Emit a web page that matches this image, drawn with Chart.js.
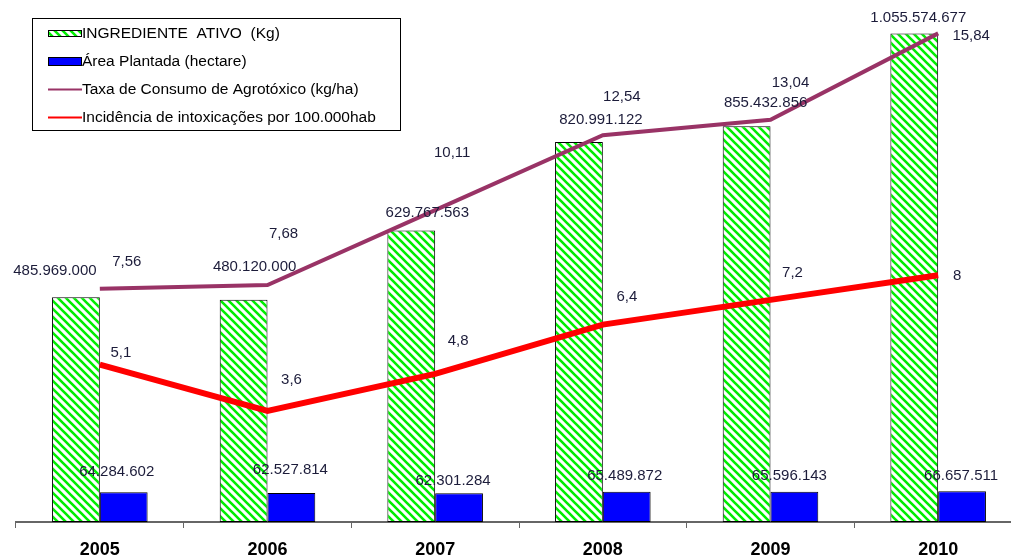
<!DOCTYPE html>
<html>
<head>
<meta charset="utf-8">
<script src="https://cdn.jsdelivr.net/npm/chart.js@4/dist/chart.umd.min.js"></script>
<style>
  html, body { margin: 0; padding: 0; background: #fff; overflow: hidden; }
  #wrap { width: 1011px; height: 559px; overflow: hidden; }
</style>
</head>
<body>
<div id="wrap"><canvas id="chart" width="1022" height="559"></canvas></div>
<script>
const years = ['2005', '2006', '2007', '2008', '2009', '2010'];
const ingredienteAtivo = [485969000, 480120000, 629767563, 820991122, 855432856, 1055574677];
const areaPlantada = [64284602, 62527814, 62301284, 65489872, 65596143, 66657511];
const taxaConsumo = [7.56, 7.68, 10.11, 12.54, 13.04, 15.84];
const incidencia = [5.1, 3.6, 4.8, 6.4, 7.2, 8];

// label nudges (dx, dy) from each mark, like the hand-moved labels of the original
const nudgeIngrediente = [[-21, -26], [11, -33], [16, -18], [22, -22], [19, -23], [4, -16]];
const nudgeArea = [[-7, -20], [-1, -23], [-6, -12], [-2, -16], [-5, -16], [-1, -15]];
const nudgeTaxa = [[27, -27], [16, -51], [17, -57], [19, -38], [20, -37], [33, 2]];
const nudgeIncid = [[21, -12], [24, -31], [23, -33], [24, -28], [22, -27], [19, 1]];

const FONT = "'Liberation Sans', Arial, sans-serif";

function fmt(v) {
    let parts = String(v).split('.');
    let int = parts[0].replace(/\B(?=(\d{3})+(?!\d))/g, '.');
    return parts.length > 1 ? int + ',' + parts[1] : int;
}

function hatch() {
    const c = document.createElement('canvas');
    c.width = 8; c.height = 8;
    const g = c.getContext('2d');
    g.fillStyle = '#fff';
    g.fillRect(0, 0, 8, 8);
    g.strokeStyle = '#00ee00';
    g.lineWidth = 2.6;
    g.beginPath();
    g.moveTo(-1, -1); g.lineTo(9, 9);
    g.moveTo(-9, -1); g.lineTo(1, 9);
    g.moveTo(7, -1); g.lineTo(17, 9);
    g.stroke();
    return c;
}

const ctx = document.getElementById('chart').getContext('2d');
const greenPattern = ctx.createPattern(hatch(), 'repeat');

const nudges = [nudgeIngrediente, nudgeArea, nudgeTaxa, nudgeIncid];

const labelPlugin = {
    id: 'valueLabels',
    afterDatasetsDraw(chart) {
        const c = chart.ctx;
        c.save();
        c.font = '15px ' + FONT;
        c.fillStyle = '#1c1c3a';
        c.textAlign = 'center';
        c.textBaseline = 'middle';
        chart.data.datasets.forEach((ds, i) => {
            const meta = chart.getDatasetMeta(i);
            meta.data.forEach((el, j) => {
                const n = nudges[i][j];
                c.fillText(fmt(ds.data[j]), el.x + n[0], el.y + n[1]);
            });
        });
        c.restore();
    }
};

const legendPlugin = {
    id: 'boxLegend',
    afterDraw(chart) {
        const c = chart.ctx;
        const ds = chart.data.datasets;
        c.save();
        c.fillStyle = '#fff';
        c.fillRect(32, 18, 368, 112);
        c.strokeStyle = '#000';
        c.lineWidth = 1;
        c.strokeRect(32.5, 18.5, 368, 112);
        const rows = [33, 61, 89, 117];
        c.font = '15.5px ' + FONT;
        c.textBaseline = 'middle';
        c.textAlign = 'left';
        ds.forEach((d, i) => {
            const y = rows[i];
            if (d.type === 'line') {
                c.strokeStyle = d.borderColor;
                c.lineWidth = 2;
                c.beginPath();
                c.moveTo(48, y + 0.5);
                c.lineTo(82, y + 0.5);
                c.stroke();
            } else {
                const h = i === 0 ? 6 : 8;
                c.fillStyle = d.backgroundColor;
                c.fillRect(48, y - h / 2, 33, h);
                c.strokeStyle = '#000';
                c.lineWidth = 1;
                c.strokeRect(48.5, y - h / 2 + 0.5, 33, h);
            }
            c.fillStyle = '#000';
            c.fillText(d.label, 82, y + 1);
        });
        c.restore();
    }
};

new Chart(ctx, {
    type: 'bar',
    data: {
        labels: years,
        datasets: [
            {
                label: 'INGREDIENTE  ATIVO  (Kg)',
                data: ingredienteAtivo,
                backgroundColor: greenPattern,
                borderColor: '#000',
                borderWidth: 1,
                yAxisID: 'y',
                order: 2
            },
            {
                label: 'Área Plantada (hectare)',
                data: areaPlantada,
                backgroundColor: '#0000ff',
                borderColor: '#000',
                borderWidth: 1,
                yAxisID: 'y',
                order: 2
            },
            {
                type: 'line',
                label: 'Taxa de Consumo de Agrotóxico (kg/ha)',
                data: taxaConsumo,
                borderColor: '#993366',
                borderWidth: 4,
                pointRadius: 0,
                tension: 0,
                yAxisID: 'y1',
                order: 1
            },
            {
                type: 'line',
                label: 'Incidência de intoxicações por 100.000hab',
                data: incidencia,
                borderColor: '#ff0000',
                borderWidth: 6,
                pointRadius: 0,
                tension: 0,
                yAxisID: 'y1',
                order: 0
            }
        ]
    },
    options: {
        responsive: false,
        animation: false,
        devicePixelRatio: 1,
        layout: { padding: { left: 16, top: 13, right: 0, bottom: 0 } },
        datasets: {
            bar: { barPercentage: 1, categoryPercentage: 0.57, borderSkipped: false }
        },
        plugins: {
            legend: { display: false },
            tooltip: { enabled: false }
        },
        scales: {
            x: {
                afterFit(scale) { scale.height = 37; },
                grid: {
                    drawOnChartArea: false,
                    drawTicks: true,
                    tickLength: 6,
                    color: '#666',
                    lineWidth: 1
                },
                border: { display: true, color: '#666', width: 2 },
                ticks: {
                    color: '#000',
                    padding: 11,
                    font: { family: FONT, size: 18, weight: 'bold' }
                }
            },
            y: { display: false, min: 0, max: 1100000000 },
            y1: { display: false, min: 0, max: 16.5 }
        }
    },
    plugins: [labelPlugin, legendPlugin]
});
</script>
</body>
</html>
